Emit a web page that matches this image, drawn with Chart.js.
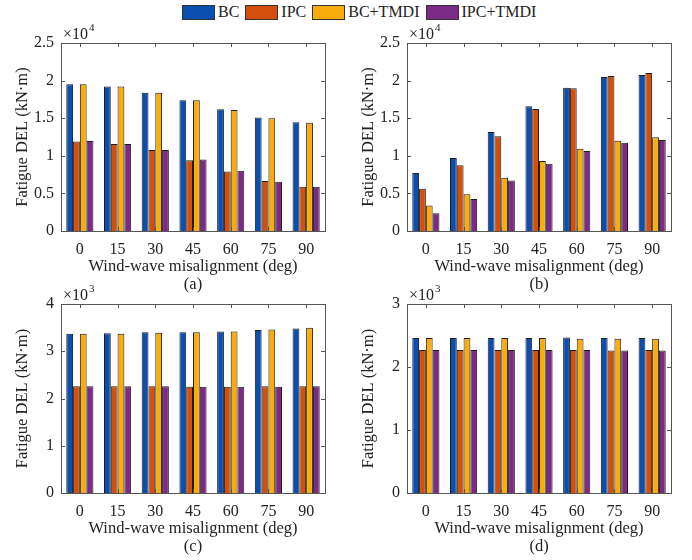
<!DOCTYPE html>
<html>
<head>
<meta charset="utf-8">
<script src="https://cdn.jsdelivr.net/npm/chart.js@4.4.1/dist/chart.umd.min.js"></script>
<style>
body { margin: 0; background: #fff; }
#wrap { position: relative; width: 692px; height: 560px; }
.pane { position: absolute; width: 346px; height: 295px; }
#legend { position: absolute; left: 182px; top: 3px; display: flex; align-items: center;
  font: 16px 'Liberation Serif', 'Times New Roman', serif; color: #222; }
#legend span.sw { display: inline-block; width: 31px; height: 13px; border: 1px solid #333; margin-right: 3px; }
#legend span.lb { margin-right: 6px; }
</style>
</head>
<body>
<div id="wrap">
  <div id="legend"></div>
  <div class="pane" style="left:0;top:0"><canvas id="pa"></canvas></div>
  <div class="pane" style="left:346px;top:0"><canvas id="pb"></canvas></div>
  <div class="pane" style="left:0;top:265px"><canvas id="pc"></canvas></div>
  <div class="pane" style="left:346px;top:265px"><canvas id="pd"></canvas></div>
</div>
<script>
const angles = ['0', '15', '30', '45', '60', '75', '90'];
const names = ['BC', 'IPC', 'BC+TMDI', 'IPC+TMDI'];
const colors = ['#0a4fb0', '#d44f0c', '#f9ad0c', '#7b2a85'];

// (a)  x10^4
const aBC   = [19500, 19200, 18400, 17400, 16200, 15100, 14450];
const aIPC  = [11900, 11570, 10770, 9400, 7900, 6650, 5900];
const aBCT  = [19500, 19200, 18400, 17400, 16100, 15000, 14400];
const aIPCT = [11970, 11570, 10770, 9500, 8000, 6550, 5900];
// (b)  x10^4
const bBC   = [7700, 9700, 13160, 16580, 19060, 20480, 20740];
const bIPC  = [5630, 8730, 12590, 16220, 18970, 20610, 21000];
const bBCT  = [3400, 4880, 7090, 9300, 10940, 12000, 12460];
const bIPCT = [2350, 4250, 6700, 8950, 10640, 11740, 12100];
// (c)  x10^3
const cBC   = [3370, 3380, 3400, 3400, 3420, 3450, 3480];
const cIPC  = [2260, 2260, 2260, 2250, 2250, 2260, 2260];
const cBCT  = [3370, 3370, 3390, 3400, 3420, 3460, 3500];
const cIPCT = [2260, 2260, 2260, 2250, 2250, 2250, 2260];
// (d)  x10^3
const dBC   = [2460, 2460, 2460, 2460, 2470, 2460, 2460];
const dIPC  = [2270, 2270, 2270, 2270, 2270, 2260, 2270];
const dBCT  = [2460, 2460, 2460, 2460, 2450, 2450, 2450];
const dIPCT = [2270, 2270, 2270, 2270, 2270, 2260, 2260];

const FONT = "'Liberation Serif', 'Times New Roman', serif";
const TXT = '#222';

// legend
const leg = document.getElementById('legend');
names.forEach((n, i) => {
  leg.innerHTML += '<span class="sw" style="background:' + colors[i] + '"></span><span class="lb">' + n + '</span>';
});

// axis box, inward ticks, exponent label
const framePlugin = {
  id: 'frame',
  afterDraw(chart, args, opts) {
    const ctx = chart.ctx;
    const a = chart.chartArea;
    const xs = chart.scales.x, ys = chart.scales.y;
    ctx.save();
    ctx.strokeStyle = '#555';
    ctx.lineWidth = 1;
    ctx.strokeRect(Math.round(a.left) + 0.5, Math.round(a.top) + 0.5, Math.round(a.right - a.left), Math.round(a.bottom - a.top));
    ctx.beginPath();
    xs.ticks.forEach((t, i) => {
      const x = Math.round(xs.getPixelForTick(i)) + 0.5;
      ctx.moveTo(x, a.bottom); ctx.lineTo(x, a.bottom - 4);
      ctx.moveTo(x, a.top); ctx.lineTo(x, a.top + 4);
    });
    ys.ticks.forEach(t => {
      const y = Math.round(ys.getPixelForValue(t.value)) + 0.5;
      ctx.moveTo(a.left, y); ctx.lineTo(a.left + 4, y);
      ctx.moveTo(a.right, y); ctx.lineTo(a.right - 4, y);
    });
    ctx.stroke();
    ctx.fillStyle = TXT;
    ctx.textBaseline = 'alphabetic';
    ctx.font = '16px ' + FONT;
    ctx.fillText('\u00d710', a.left + 2, a.top - 4);
    const w = ctx.measureText('\u00d710').width;
    ctx.font = '11px ' + FONT;
    ctx.fillText(opts.exp, a.left + 2 + w + 1, a.top - 12);
    ctx.restore();
  }
};

function makePanel(id, sets, max, step, expo, sub, padTop, xHeight, titlePad) {
  const div = Math.pow(10, expo);
  new Chart(document.getElementById(id), {
    type: 'bar',
    data: {
      labels: angles,
      datasets: sets.map((d, i) => ({
        label: names[i],
        data: d,
        backgroundColor: colors[i],
        borderColor: '#1e1e1e',
        borderWidth: 1,
        barPercentage: 1,
        categoryPercentage: 0.72
      }))
    },
    options: {
      responsive: false,
      animation: false,
      layout: { padding: { top: padTop, right: 21, left: 0, bottom: 0 } },
      plugins: { legend: { display: false }, tooltip: { enabled: false }, frame: { exp: String(expo) } },
      scales: {
        x: {
          grid: { display: false, drawTicks: false },
          border: { display: false },
          ticks: { color: TXT, font: { family: FONT, size: 16 }, padding: 9, maxRotation: 0 },
          title: { display: true, text: ['Wind-wave misalignment (deg)', sub], color: TXT,
                   font: { family: FONT, size: 16.5, lineHeight: 1.1 }, padding: { top: 0, bottom: titlePad } },
          afterFit: s => { s.height = xHeight; }
        },
        y: {
          min: 0, max: max,
          grid: { display: false, drawTicks: false },
          border: { display: false },
          ticks: { stepSize: step, color: TXT, font: { family: FONT, size: 16 }, padding: 7,
                   callback: v => String(Math.round(v / div * 10) / 10) },
          title: { display: true, text: 'Fatigue DEL (kN\u00b7m)', color: TXT,
                   font: { family: FONT, size: 16.5 }, padding: { top: 13, bottom: 0 } },
          afterFit: s => { s.width = 61; }
        }
      }
    },
    plugins: [framePlugin]
  });
}

['pa', 'pb', 'pc', 'pd'].forEach(id => {
  const c = document.getElementById(id);
  c.width = 346; c.height = 295;
});

makePanel('pa', [aBC, aIPC, aBCT, aIPCT], 25000, 5000, 4, '(a)', 43, 64, 1);
makePanel('pb', [bBC, bIPC, bBCT, bIPCT], 25000, 5000, 4, '(b)', 43, 64, 1);
makePanel('pc', [cBC, cIPC, cBCT, cIPCT], 4000, 1000, 3, '(c)', 39, 67, 4);
makePanel('pd', [dBC, dIPC, dBCT, dIPCT], 3000, 1000, 3, '(d)', 39, 67, 4);
</script>
</body>
</html>
